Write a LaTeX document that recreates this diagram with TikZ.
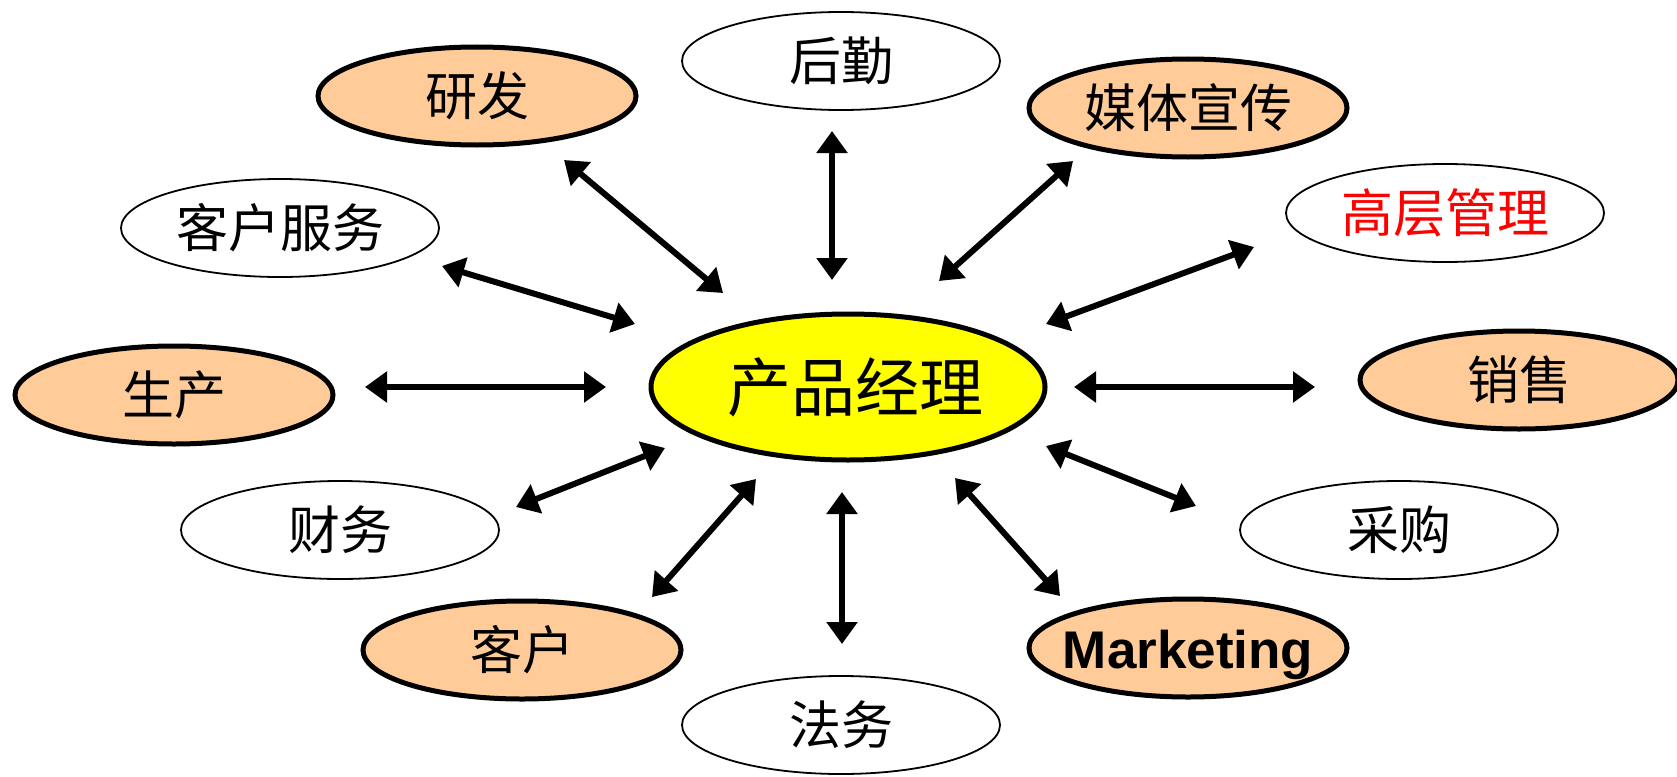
\documentclass[tikz,border=0pt]{standalone}
\usepackage{fontspec}
\newfontfamily\cjk{Noto Sans CJK SC}
\newfontfamily\arialfont{Liberation Sans}
\usetikzlibrary{shapes.geometric,arrows.meta}
\definecolor{peach}{HTML}{FFCC99}
\definecolor{hlyellow}{HTML}{FFFF00}
\definecolor{hlred}{HTML}{FF0000}
\tikzset{
  bubble/.style={ellipse, draw=black, minimum width=318pt, minimum height=98pt, inner sep=0pt,
    font=\cjk\fontsize{52}{60}\selectfont},
  hot/.style={bubble, fill=peach, line width=5pt},
  plain/.style={bubble, fill=white, line width=1.8pt},
  core/.style={ellipse, draw=black, fill=hlyellow, line width=5pt, minimum width=394pt,
    minimum height=146pt, inner sep=0pt, font=\cjk\fontsize{64}{70}\selectfont},
  biarrow/.style={line width=6pt, {Triangle[width=30pt,length=22pt]}-{Triangle[width=30pt,length=22pt]}},
}
\begin{document}
\begin{tikzpicture}[x=1pt,y=-1pt]
\useasboundingbox (0,0) rectangle (1677,776);
% nodes
\node[core]  (pm)   at (848,387) {\hspace*{14pt}产品经理};
\node[hot]   (yf)   at (477,96)  {研发};
\node[plain] (hq)   at (841,61)  {后勤};
\node[hot]   (mt)   at (1188,108) {媒体宣传};
\node[plain] (kf)   at (280,228) {客户服务};
\node[plain, text=hlred] (gc) at (1445,213) {高层管理};
\node[hot]   (sc)   at (174,395) {生产};
\node[hot]   (xs)   at (1519,380) {销售};
\node[plain] (cw)   at (340,530) {财务};
\node[plain] (cg)   at (1399,530) {采购};
\node[hot]   (kh)   at (522,650) {客户};
\node[hot, text depth=0pt, font=\arialfont\bfseries\fontsize{53}{60}\selectfont] (mk) at (1188,648) {\makebox[0pt]{\raisebox{-3pt}{Marketing}}};
\node[plain] (fw)   at (841,725) {法务};
% arrow end points
\coordinate (yfA) at (564,160);  \coordinate (yfB) at (723,293);
\coordinate (hqA) at (832,131);  \coordinate (hqB) at (832,280);
\coordinate (mtA) at (1073,161); \coordinate (mtB) at (939,281);
\coordinate (kfA) at (442,266);  \coordinate (kfB) at (635,324);
\coordinate (gcA) at (1254,247); \coordinate (gcB) at (1046,324);
\coordinate (scA) at (365,387);  \coordinate (scB) at (606,387);
\coordinate (xsA) at (1074,387); \coordinate (xsB) at (1315,387);
\coordinate (cwA) at (516,507);  \coordinate (cwB) at (665,448);
\coordinate (cgA) at (1196,506); \coordinate (cgB) at (1046,446);
\coordinate (khA) at (652,597);  \coordinate (khB) at (756,479);
\coordinate (fwA) at (842,492);  \coordinate (fwB) at (842,644);
\coordinate (mkA) at (1060,596); \coordinate (mkB) at (955,478);
% connectors
\foreach \n in {yf,hq,mt,kf,gc,sc,xs,cw,cg,kh,fw,mk}
  \draw[biarrow] (\n A) -- (\n B);
\end{tikzpicture}
\end{document}
